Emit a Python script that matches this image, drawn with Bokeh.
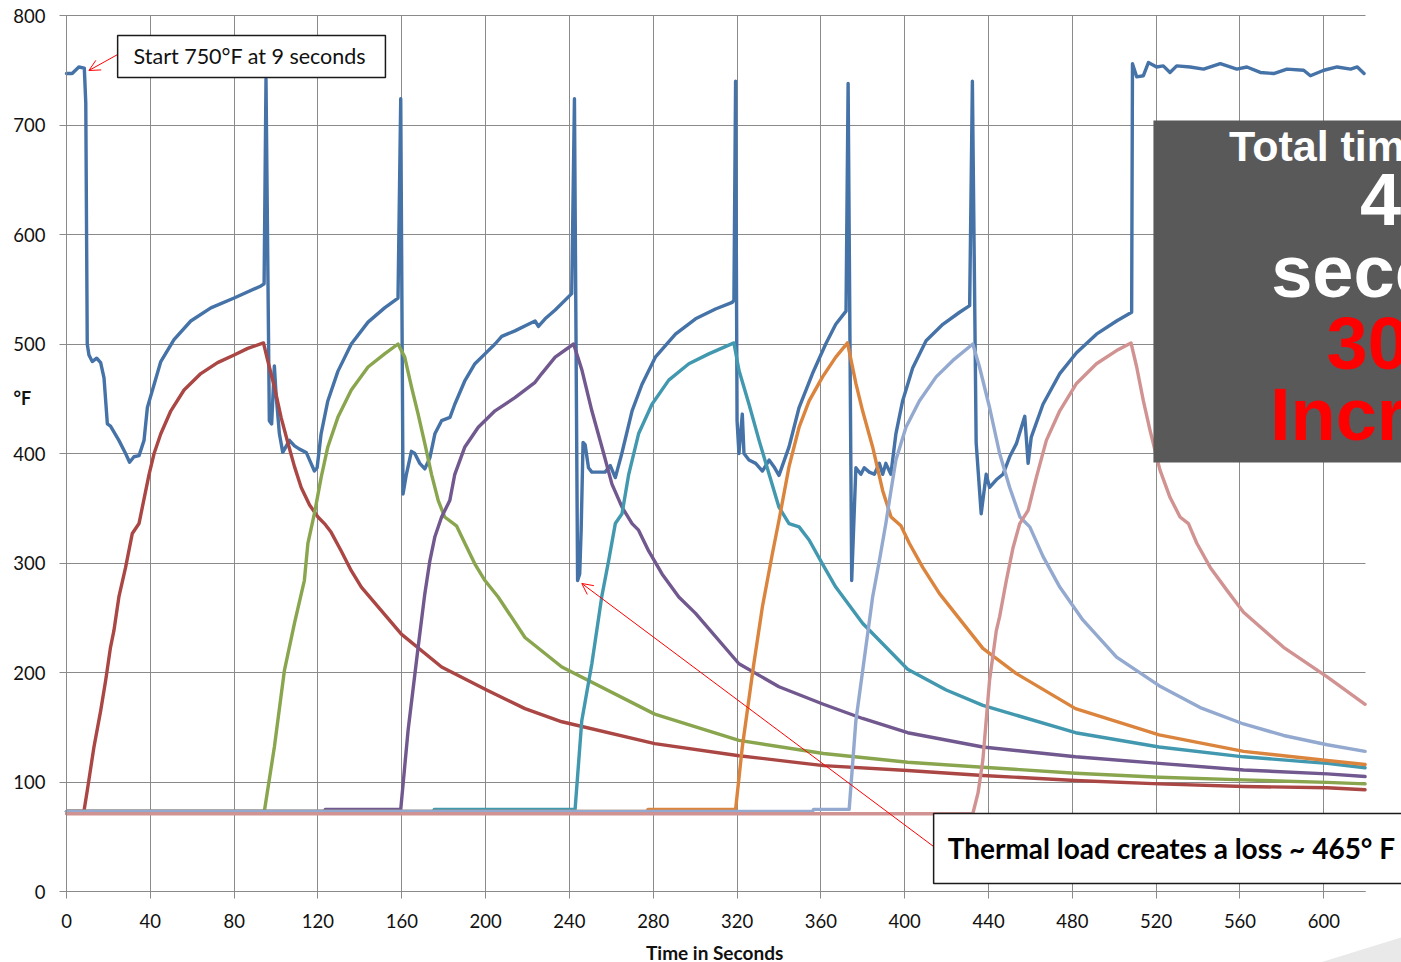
from bokeh.plotting import figure
from bokeh.models import (Range1d, BoxAnnotation, Label, Arrow, OpenHead, FixedTicker,
                          PolyAnnotation)
from bokeh.embed import file_html
from bokeh.resources import INLINE

# ---------------- data ----------------
oven_x = [0, 2.7, 5.9, 8.5, 9.2, 9.9, 10.7, 12.3, 14.4, 16.3, 17.9, 19.5, 21, 25, 28.2, 30.1, 32.2, 34.6,
          37, 38.6, 41.8, 45, 51.3, 59.3, 68.9, 80, 92.8, 94.3, 95.2, 96.8, 97.9, 99.2, 100, 101.6, 103.2,
          106.4, 108.8, 111.2, 114.4, 116.7, 118.3, 119.6, 121.5, 124.7, 129.5, 135.9, 143.9, 151.8, 158.2,
          159.5, 160.6, 162.2, 164.6, 166.2, 168.6, 171, 173.4, 175.8, 179, 183, 185.3, 190, 194.9, 199.7,
          204.5, 207.7, 214, 220.4, 223.6, 225.2, 228.4, 233.2, 241.1, 242.4, 243.9, 244.9, 245.6, 246.5,
          247.5, 249.1, 250.7, 257, 259.5, 261.9, 265, 269.9, 274.6, 281, 290.6, 300.2, 309.7, 317.7, 318.5,
          319.3, 320, 320.9, 322.5, 323.3, 325.7, 328.9, 332.1, 335.3, 337.6, 340, 344.8, 349.6, 356, 362.3,
          367.1, 372, 373, 374.7, 376.7, 379.1, 380.7, 383.1, 385.5, 387.9, 389.5, 391, 393.4, 395.8, 399,
          403.8, 410.2, 418.2, 426.2, 431, 432.3, 434.1, 436.5, 438.9, 440.5, 443.7, 446.9, 450.1, 453.3,
          457.3, 458.9, 460.4, 466, 474, 482, 491.5, 501.1, 508.3, 508.7, 510.7, 513.9, 516.3, 520.2, 523.4,
          526.6, 529.8, 536.2, 542.6, 550.6, 558.5, 563.3, 569.7, 576.1, 582.4, 590.4, 593.6, 600, 606.4,
          612.8, 616, 619.2]
oven_y = [747, 747, 753, 752, 720, 500, 490, 484, 487, 483, 469, 427, 425, 412, 400, 392, 397, 398,
          412, 442, 463, 484, 504, 521, 533, 542, 553, 555, 742, 430, 427, 480, 454, 418, 401,
          412, 407, 404, 401, 391, 384, 387, 418, 448, 475, 500, 520, 533, 542,
          724, 363, 381, 402, 400, 391, 386, 396, 418, 430, 433, 445, 466, 482, 491,
          500, 507, 512, 518, 521, 516, 523, 531, 546, 724, 284, 290, 330, 410,
          408, 387, 383, 383, 389, 378, 400, 439, 463, 488, 509, 523, 532, 538, 540,
          740, 430, 400, 436, 400, 394, 391, 384, 394, 388, 380, 406, 442, 473, 500,
          518, 530, 738, 284, 387, 381, 387, 383, 381, 391, 381, 391, 381, 418, 448,
          478, 503, 518, 529, 535, 740, 410, 345, 381, 369, 376, 381, 397, 409,
          434, 391, 415, 445, 473, 492, 509, 521, 529, 756, 744, 745, 757, 753, 754,
          748, 754, 753, 751, 756, 751, 753, 748, 747, 751, 750, 745, 750, 753,
          751, 753, 747]

red_x = [0, 8.3, 9.9, 13.1, 16.3, 18.7, 21, 22.6, 25, 28.2, 31.4, 34.6, 36.2, 39.4, 41.8, 45, 49.8, 56.1,
         64.1, 72.1, 80, 86.5, 94, 96, 99.2, 102.4, 105.6, 108.8, 112, 116, 120, 123.1, 126.3, 131.1, 135.9,
         140.7, 159.8, 179, 200.5, 218.8, 236.4, 280.7, 320.9, 361.2, 401.4, 437.3, 481.5, 521.4, 561.7,
         601.6, 619.7]
red_y = [73, 73, 92, 132, 165, 193, 223, 238, 269, 296, 327, 336, 351, 381, 400, 418, 439, 458,
         473, 483, 490, 496, 501, 485, 461, 433, 410, 388, 369, 353, 342, 336, 328, 311, 293,
         278, 235, 205, 184, 167, 155, 135, 124, 115, 110.5, 106, 101.4, 98.3, 95.9,
         94.7, 92.9]

green_x = [0, 94.4, 99.2, 104, 108.8, 113.5, 115.2, 118.3, 121.5, 124.7, 129.5, 135.9, 143.9, 151.8, 158.2,
           161.4, 164.6, 167.8, 171, 174.2, 177.4, 180.5, 186.1, 190.1, 194.9, 199.7, 206, 218.8, 236.4,
           280.7, 320.9, 361.2, 401.4, 437.3, 481.5, 521.4, 561.7, 601.6, 619.7]
green_y = [73, 73, 132, 202, 245, 284, 318, 345, 378, 406, 433, 458, 479, 491, 500,
           488, 461, 436, 409, 381, 357, 342, 334, 318, 299, 284, 269, 232, 205,
           162, 138, 126, 118, 113.5, 108, 104.4, 101.9, 99.7, 98.3]

purple_x = [0, 123, 123.5, 159.5, 163, 167.8, 171, 173.4, 175.8, 179, 182.9, 185.3, 190.1, 196.5, 204.5,
            214, 223.6, 226.8, 233.2, 242, 246, 250.7, 255.5, 260.3, 265.1, 269.9, 273, 277.8, 284.2,
            292.2, 300.2, 320.9, 340, 361.2, 379.9, 401.4, 437.3, 481.5, 521.4, 561.7, 601.6, 619.7]
purple_y = [73, 73, 75, 75, 147, 223, 272, 302, 324, 342, 357, 381, 406, 424, 439,
            451, 465, 473, 488, 500, 476, 439, 406, 372, 351, 336, 330, 311, 290,
            269, 254, 208, 187, 171, 158, 145, 132, 123, 117, 111, 107.4, 105]

aqua_x = [0, 175, 175.5, 242.7, 245.9, 250.7, 255.5, 258.7, 261.9, 265.1, 268.3, 273, 279.4, 287.4, 297,
          306.5, 318.5, 320.9, 325.7, 330.5, 335.3, 340, 344.8, 349.6, 354.4, 360.8, 367.1, 379.9, 401.4,
          419.8, 437.3, 481.5, 521.4, 561.7, 601.6, 619.7]
aqua_y = [73, 73, 75, 75, 156, 208, 270, 302, 336, 345, 381, 418, 445, 467, 482,
          491, 501, 476, 445, 412, 381, 351, 336, 333, 321, 299, 278, 245, 203,
          184, 170, 145, 132, 123, 117, 113]

orange_x = [0, 277, 277.5, 319.3, 322.5, 328, 332.1, 336.8, 340, 344.8, 349.6, 354.4, 360.8, 367.1, 372.7,
            376.7, 379.9, 384.7, 389.5, 393.5, 398.2, 402.2, 408.6, 416.6, 437.3, 453.3, 481.5, 521.4,
            561.7, 601.6, 619.7]
orange_y = [73, 73, 75, 75, 132, 208, 260, 308, 339, 388, 424, 448, 470, 488, 501,
            464, 439, 406, 366, 342, 334, 318, 296, 272, 222, 199, 167, 143,
            128, 119.6, 116]

ltblue_x = [0, 356, 356.5, 373.5, 376.7, 384.7, 387.9, 391, 392.7, 395.8, 400.6, 407, 415, 423, 432.5,
            435.7, 440.5, 445.3, 450.1, 455, 459.7, 466, 474, 485, 501.1, 521.4, 541, 561.7, 580.8,
            601.6, 619.7]
ltblue_y = [73, 73, 75, 75, 156, 269, 302, 336, 357, 394, 424, 448, 470, 485, 500,
            479, 442, 400, 369, 342, 333, 306, 278, 248, 214, 188, 168, 153, 142.5,
            134, 128]

pink_x = [0, 432.5, 435, 437.3, 440.5, 443.7, 445.3, 448.5, 451.7, 454.9, 458.9, 462.8, 467.6, 474, 482,
          491.5, 501.1, 508, 510.7, 513.9, 517.1, 521.8, 526.6, 531.4, 535.4, 539.4, 545.8, 553.8, 561.7,
          580.8, 601.6, 619.7]
pink_y = [71, 71, 90, 120, 193, 238, 251, 284, 314, 336, 348, 378, 412, 439, 464,
          482, 494, 501, 479, 448, 421, 385, 360, 342, 336, 318, 296, 275, 255,
          223, 196, 171]

x_ticks = [0, 40, 80, 120, 160, 200, 240, 280, 320, 360, 400, 440, 480, 520, 560, 600]
y_ticks = [0, 100, 200, 300, 400, 500, 600, 700, 800]
x_max = 620
y_max = 800

series = [
    (oven_x, oven_y, "#4572A7"),
    (red_x, red_y, "#AA4643"),
    (green_x, green_y, "#89A54E"),
    (purple_x, purple_y, "#71588F"),
    (aqua_x, aqua_y, "#4198AF"),
    (orange_x, orange_y, "#DB843D"),
    (ltblue_x, ltblue_y, "#93A9CF"),
    (pink_x, pink_y, "#D19392"),
]

# ---------------- figure ----------------
# the frame covers the whole canvas; axes are pinned at 0 so that every
# annotation (titles, call-out boxes) lies inside the frame.
W, H = 1401, 962
PX0, PY0 = 66.0, 891.0          # pixel position of data (0, 0)
SX, SY = 2.0955, 1.095          # pixels per data unit
p = figure(width=W, height=H,
           x_range=Range1d(-PX0 / SX, (W - PX0) / SX),
           y_range=Range1d(-(H - PY0) / SY, PY0 / SY),
           output_backend="svg", toolbar_location=None, title=None,
           min_border_left=0, min_border_right=0, min_border_top=0, min_border_bottom=0)
p.outline_line_color = None
p.background_fill_color = "white"
p.border_fill_color = "white"

grid_col = "#8a8a8a"
p.xaxis.ticker = FixedTicker(ticks=x_ticks)
p.yaxis.ticker = FixedTicker(ticks=y_ticks)
p.xgrid.ticker = FixedTicker(ticks=x_ticks)
p.ygrid.ticker = FixedTicker(ticks=y_ticks)

xg, yg = p.xgrid[0], p.ygrid[0]
if "cross_bounds" in xg.properties():
    for g in (xg, yg):
        g.grid_line_color = grid_col
        g.grid_line_width = 1
    xg.cross_bounds = (0, y_max)
    yg.cross_bounds = (0, x_max)
else:
    xg.grid_line_color = None
    yg.grid_line_color = None
    p.segment(x0=x_ticks, y0=[0] * len(x_ticks), x1=x_ticks, y1=[y_max] * len(x_ticks),
              line_color=grid_col, line_width=1)
    p.segment(x0=[0] * len(y_ticks), y0=y_ticks, x1=[x_max] * len(y_ticks), y1=y_ticks,
              line_color=grid_col, line_width=1)

p.xaxis.fixed_location = 0
p.yaxis.fixed_location = 0
p.xaxis.bounds = (0, x_max)
p.yaxis.bounds = (0, y_max)
for ax in (p.xaxis[0], p.yaxis[0]):
    ax.axis_line_color = grid_col
    ax.major_tick_line_color = grid_col
    ax.major_tick_out = 7
    ax.major_tick_in = 0
    ax.minor_tick_line_color = None
    ax.major_label_text_font = "Lato"
    ax.major_label_text_font_size = "18.5px"
    ax.major_label_text_color = "#111111"
p.xaxis.major_label_standoff = 15
p.yaxis.major_label_standoff = 14

for xs, ys, col in series:
    p.line(xs, ys, line_width=3.4, line_color=col, line_join="round", line_cap="round")

# ---------------- annotations ----------------
# slide decoration in the bottom-right corner
p.add_layout(PolyAnnotation(xs=[598.4, 640, 640], ys=[-64.8, -40.2, -66],
                            fill_color="#e9e9e9", fill_alpha=1, line_color=None))

# "Start" callout
p.add_layout(Arrow(end=OpenHead(size=11, line_color="red", line_width=1),
                   x_start=25, y_start=765, x_end=10.7, y_end=749.8,
                   line_color="red", line_width=1))
p.add_layout(BoxAnnotation(left=24.4, right=152.2, top=781.7, bottom=743.4,
                           fill_color="white", fill_alpha=1, line_color="#1a1a1a", line_width=1.5,
                           line_alpha=1))
p.add_layout(Label(x=32.0, y=762.6, text="Start 750°F at 9 seconds", text_font="Lato",
                   text_font_size="21.5px", text_color="#111", text_baseline="middle", text_align="left"))

# thermal load callout
p.add_layout(Arrow(end=OpenHead(size=11, line_color="red", line_width=1),
                   x_start=414.4, y_start=40.2, x_end=245.9, y_end=281.3,
                   line_color="red", line_width=1))
p.add_layout(BoxAnnotation(left=413.8, right=700, top=71.2, bottom=7.3,
                           fill_color="white", fill_alpha=1, line_color="#1a1a1a", line_width=1.5,
                           line_alpha=1))
p.add_layout(Label(x=420.5, y=39.3, text="Thermal load creates a loss ~ 465° F", text_font="Lato",
                   text_font_style="bold", text_font_size="28px", text_color="#000",
                   text_baseline="middle", text_align="left"))

# dark summary box (its right part is cut off by the picture's edge)
p.add_layout(BoxAnnotation(left=518.7, right=700, top=704.1, bottom=391.8,
                           fill_color="#595959", fill_alpha=1, line_color=None))
box_lines = [
    ("Total time", 554.8, 680.4, "43px", "white"),
    ("45", 617.3, 632.6, "74px", "white"),
    ("seconds", 574.9, 566.2, "74px", "white"),
    ("30%", 601.3, 500.2, "74px", "red"),
    ("Increase", 574.3, 435.4, "74px", "red"),
]
for t, x, y, fs, col in box_lines:
    p.add_layout(Label(x=x, y=y, text=t, text_font="Liberation Sans", text_font_style="bold",
                       text_font_size=fs, text_color=col, text_baseline="middle", text_align="left"))

# axis titles
p.add_layout(Label(x=-25.3, y=451, text="°F", text_font="Lato", text_font_style="bold",
                   text_font_size="18px", text_color="#111", text_baseline="middle", text_align="left"))
p.add_layout(Label(x=309.3, y=-55.7, text="Time in Seconds", text_font="Lato", text_font_style="bold",
                   text_font_size="19px", text_color="#111", text_baseline="middle", text_align="center"))

open("out.html", "w").write(file_html(p, INLINE))
